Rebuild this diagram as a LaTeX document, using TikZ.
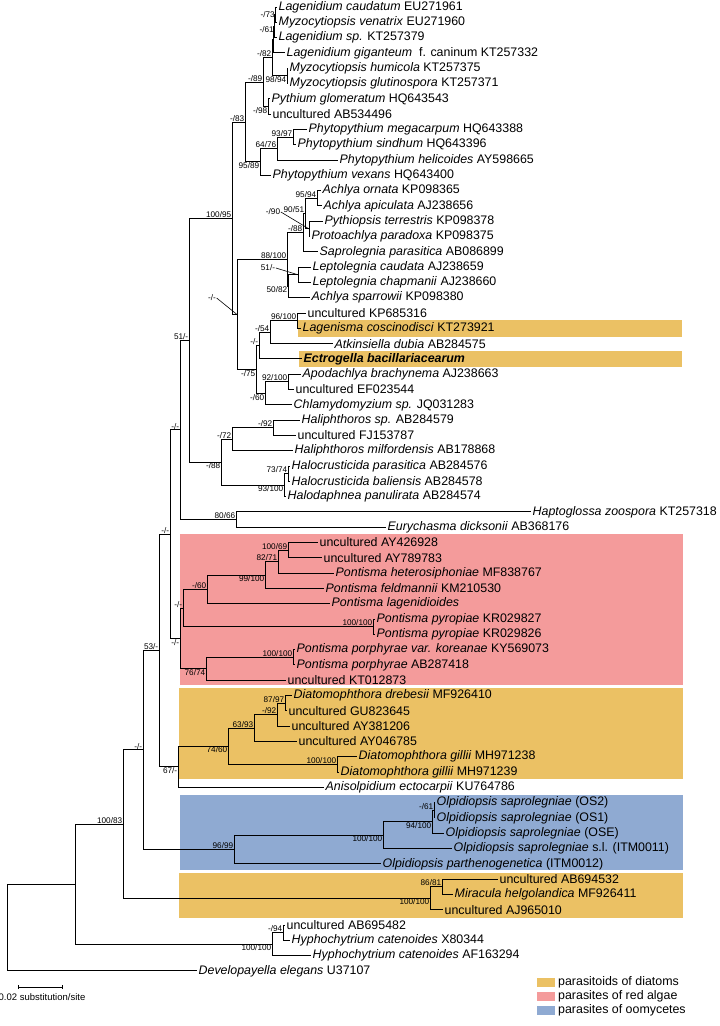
\documentclass[tikz,border=0pt]{standalone}
\usepackage{fontspec}
\setmainfont{Liberation Sans}
\usetikzlibrary{arrows.meta}
\definecolor{DiatomOrange}{RGB}{235,193,100}
\definecolor{RedAlgae}{RGB}{244,155,155}
\definecolor{OomBlue}{RGB}{143,170,210}
\tikzset{
  leaf/.style={anchor=west,inner xsep=1.5pt,inner ysep=0pt,
               font=\fontsize{12.4}{14}\selectfont},
  treeline/.style={line width=0.9pt,black},
  supp/.style={inner sep=0.6pt,font=\fontsize{8.2}{9}\selectfont},
  bsa/.style={supp,anchor=south east},
  bsb/.style={supp,anchor=north east},
  bsl/.style={supp,anchor=east},
  leadline/.style={line width=0.6pt,black},
}

\begin{document}
\begin{tikzpicture}[x=1pt,y=-1pt,
    legendtext/.style={anchor=west,inner sep=0pt,font=\fontsize{12.4}{14}\selectfont},
    swatch/.style={minimum width=18pt,minimum height=9pt,inner sep=0pt}
  ]
  \useasboundingbox (0,0) rectangle (720,1026);

  % Group shading
  \fill[DiatomOrange] (298,320) rectangle (682,336.5);
  \fill[DiatomOrange] (299,350.5) rectangle (682,367);
  \fill[RedAlgae] (180,533.5) rectangle (683,685);
  \fill[DiatomOrange] (179,688) rectangle (683,779);
  \fill[OomBlue] (180,795) rectangle (683,870);
  \fill[DiatomOrange] (179,872.5) rectangle (683,917.5);

  % Taxa
  \node[leaf] (l1) at (277,7.0) {\textit{Lagenidium caudatum} EU271961};
  \node[leaf] (l2) at (277,22.3) {\textit{Myzocytiopsis venatrix} EU271960};
  \node[leaf] (l3) at (277,37.6) {\textit{Lagenidium sp.} KT257379};
  \node[leaf] (l4) at (285,52.9) {\textit{Lagenidium giganteum}\ \ f. caninum KT257332};
  \node[leaf] (l5) at (288,68.2) {\textit{Myzocytiopsis humicola} KT257375};
  \node[leaf] (l6) at (288,83.5) {\textit{Myzocytiopsis glutinospora} KT257371};
  \node[leaf] (l7) at (270,98.8) {\textit{Pythium glomeratum} HQ643543};
  \node[leaf] (l8) at (271,114.1) {uncultured AB534496};
  \node[leaf] (l9) at (307,129.4) {\textit{Phytopythium megacarpum} HQ643388};
  \node[leaf] (l10) at (296,144.7) {\textit{Phytopythium sindhum} HQ643396};
  \node[leaf] (l11) at (338,160.0) {\textit{Phytopythium helicoides} AY598665};
  \node[leaf] (l12) at (271,175.3) {\textit{Phytopythium vexans} HQ643400};
  \node[leaf] (l13) at (321,190.6) {\textit{Achlya ornata} KP098365};
  \node[leaf] (l14) at (322,205.9) {\textit{Achlya apiculata} AJ238656};
  \node[leaf] (l15) at (323,221.2) {\textit{Pythiopsis terrestris} KP098378};
  \node[leaf] (l16) at (310,236.5) {\textit{Protoachlya paradoxa} KP098375};
  \node[leaf] (l17) at (318,251.8) {\textit{Saprolegnia parasitica} AB086899};
  \node[leaf] (l18) at (311,267.1) {\textit{Leptolegnia caudata} AJ238659};
  \node[leaf] (l19) at (311,282.4) {\textit{Leptolegnia chapmanii} AJ238660};
  \node[leaf] (l20) at (310,297.7) {\textit{Achlya sparrowii} KP098380};
  \node[leaf] (l21) at (306,313.0) {uncultured KP685316};
  \node[leaf] (l22) at (301,328.3) {\textit{Lagenisma coscinodisci} KT273921};
  \node[leaf] (l23) at (333,343.6) {\textit{Atkinsiella dubia} AB284575};
  \node[leaf] (l24) at (302,358.9) {\textbf{\textit{Ectrogella bacillariacearum}}};
  \node[leaf] (l25) at (301,374.2) {\textit{Apodachlya brachynema} AJ238663};
  \node[leaf] (l26) at (294,389.5) {uncultured EF023544};
  \node[leaf] (l27) at (292,404.8) {\textit{Chlamydomyzium sp.} JQ031283};
  \node[leaf] (l28) at (300,420.1) {\textit{Haliphthoros sp.} AB284579};
  \node[leaf] (l29) at (296,435.4) {uncultured FJ153787};
  \node[leaf] (l30) at (293,450.7) {\textit{Haliphthoros milfordensis} AB178868};
  \node[leaf] (l31) at (290,466.0) {\textit{Halocrusticida parasitica} AB284576};
  \node[leaf] (l32) at (290,481.3) {\textit{Halocrusticida baliensis} AB284578};
  \node[leaf] (l33) at (286,496.6) {\textit{Halodaphnea panulirata} AB284574};
  \node[leaf] (l34) at (531,511.9) {\textit{Haptoglossa zoospora} KT257318};
  \node[leaf] (l35) at (386,527.2) {\textit{Eurychasma dicksonii} AB368176};
  \node[leaf] (l36) at (318,542.5) {uncultured AY426928};
  \node[leaf] (l37) at (322,557.8) {uncultured AY789783};
  \node[leaf] (l38) at (334,573.1) {\textit{Pontisma heterosiphoniae} MF838767};
  \node[leaf] (l39) at (324,588.4) {\textit{Pontisma feldmannii} KM210530};
  \node[leaf] (l40) at (330,603.7) {\textit{Pontisma lagenidioides}};
  \node[leaf] (l41) at (375,619.0) {\textit{Pontisma pyropiae} KR029827};
  \node[leaf] (l42) at (375,634.3) {\textit{Pontisma pyropiae} KR029826};
  \node[leaf] (l43) at (295,649.6) {\textit{Pontisma porphyrae var. koreanae} KY569073};
  \node[leaf] (l44) at (295,664.9) {\textit{Pontisma porphyrae} AB287418};
  \node[leaf] (l45) at (286,680.2) {uncultured KT012873};
  \node[leaf] (l46) at (292,695.5) {\textit{Diatomophthora drebesii} MF926410};
  \node[leaf] (l47) at (287,710.8) {uncultured GU823645};
  \node[leaf] (l48) at (290,726.1) {uncultured AY381206};
  \node[leaf] (l49) at (297,741.4) {uncultured AY046785};
  \node[leaf] (l50) at (357,756.7) {\textit{Diatomophthora gillii} MH971238};
  \node[leaf] (l51) at (339,772.0) {\textit{Diatomophthora gillii} MH971239};
  \node[leaf] (l52) at (324,787.3) {\textit{Anisolpidium ectocarpii} KU764786};
  \node[leaf] (l53) at (435,802.6) {\textit{Olpidiopsis saprolegniae} (OS2)};
  \node[leaf] (l54) at (435,817.9) {\textit{Olpidiopsis saprolegniae} (OS1)};
  \node[leaf] (l55) at (444,833.2) {\textit{Olpidiopsis saprolegniae} (OSE)};
  \node[leaf] (l56) at (452,848.5) {\textit{Olpidiopsis saprolegniae} s.l. (ITM0011)};
  \node[leaf] (l57) at (381,863.8) {\textit{Olpidiopsis parthenogenetica} (ITM0012)};
  \node[leaf] (l58) at (498,879.1) {uncultured AB694532};
  \node[leaf] (l59) at (453,894.4) {\textit{Miracula helgolandica} MF926411};
  \node[leaf] (l60) at (443,909.7) {uncultured AJ965010};
  \node[leaf] (l61) at (285,925.0) {uncultured AB695482};
  \node[leaf] (l62) at (290,940.3) {\textit{Hyphochytrium catenoides} X80344};
  \node[leaf] (l63) at (311,955.6) {\textit{Hyphochytrium catenoides} AF163294};
  \node[leaf] (l64) at (197,970.9) {\textit{Developayella elegans} U37107};

  % Internal nodes and support values
  \coordinate (root) at (7,927.5);
  \coordinate (A) at (75,884.1);
  \coordinate (B) at (123,824.05);     \node[bsa] (sB) at (B) {100/83};
  \coordinate (n100c) at (430,898.2);  \node[bsb] (s100c) at (n100c) {100/100};
  \coordinate (n8681) at (442,886.75); \node[bsa] (s8681) at (n8681) {86/81};
  \coordinate (n100d) at (272,944.1);  \node[bsb] (s100d) at (n100d) {100/100};
  \coordinate (n94b) at (283,932.65);  \node[bsa] (s94b) at (n94b) {-/94};
  \coordinate (C) at (143,749.9);      \node[bsa] (sC) at (C) {-/-};
  \coordinate (n9699) at (234,849.45); \node[bsa] (s9699) at (n9699) {96/99};
  \coordinate (n100b) at (383,835.1);  \node[bsb] (s100b) at (n100b) {100/100};
  \coordinate (n94100) at (432,821.7); \node[bsb] (s94100) at (n94100) {94/100};
  \coordinate (n61c) at (434,810.25);  \node[bsa] (s61c) at (n61c) {-/61};
  \coordinate (D) at (159,650.4);      \node[bsa] (sD) at (D) {53/-};
  \coordinate (n67) at (178,766.75);   \node[bsb] (s67) at (n67) {67/-};
  \coordinate (n7460) at (228,746.2);  \node[bsb] (s7460) at (n7460) {74/60};
  \coordinate (nGil) at (337,764.35);  \node[bsa] (sGil) at (nGil) {100/100};
  \coordinate (n6393) at (254,728);    \node[bsa] (s6393) at (n6393) {63/93};
  \coordinate (n92c) at (277,714.6);   \node[bsa] (s92c) at (n92c) {-/92};
  \coordinate (n8797) at (285,703.15); \node[bsa] (s8797) at (n8797) {87/97};
  \coordinate (E) at (170,534.1);      \node[bsa] (sE) at (E) {-/-};
  \coordinate (nRed) at (180,638.35);  \node[bsb] (sRed) at (nRed) {-/-};
  \coordinate (n7674) at (206,668.7);  \node[bsb] (s7674) at (n7674) {76/74};
  \coordinate (nPor) at (293,657.25);  \node[bsa] (sPor) at (nPor) {100/100};
  \coordinate (nR1) at (183,608);      \node[bsa] (sR1) at (nR1) {-/-};
  \coordinate (nPyr) at (373,626.65);  \node[bsa] (sPyr) at (nPyr) {100/100};
  \coordinate (n60b) at (207,589.35);  \node[bsa] (s60b) at (n60b) {-/60};
  \coordinate (n99) at (265,575);      \node[bsb] (s99) at (n99) {99/100};
  \coordinate (n8271) at (278,561.6);  \node[bsa] (s8271) at (n8271) {82/71};
  \coordinate (n10069) at (288,550.15);\node[bsa] (s10069) at (n10069) {100/69};
  \coordinate (G) at (180,429.9);      \node[bsa] (sG) at (G) {-/-};
  \coordinate (n8066) at (236,519.55); \node[bsa] (s8066) at (n8066) {80/66};
  \coordinate (n51) at (189,340.2);    \node[bsa] (s51) at (n51) {51/-};
  \coordinate (n88b) at (221,462.2);   \node[bsb] (s88b) at (n88b) {-/88};
  \coordinate (n93100) at (284,485.1); \node[bsb] (s93100) at (n93100) {93/100};
  \coordinate (n7374) at (288,473.65); \node[bsa] (s7374) at (n7374) {73/74};
  \coordinate (n72) at (232,439.2);    \node[bsa] (s72) at (n72) {-/72};
  \coordinate (n92b) at (273,427.75);  \node[bsa] (s92b) at (n92b) {-/92};
  \coordinate (n10095) at (232,218.2); \node[bsa] (s10095) at (n10095) {100/95};
  \coordinate (nX1) at (237,314.5);    \node[supp] (sX1) at (212,298) {-/-};
  \coordinate (n75) at (256,369.4);    \node[bsb] (s75) at (n75) {-/75};
  \coordinate (n60) at (265,393.3);    \node[bsb] (s60) at (n60) {-/60};
  \coordinate (n92) at (288,381.85);   \node[bsa] (s92) at (n92) {92/100};
  \coordinate (n54b) at (259,345.5);   \node[bsa] (s54b) at (n54b) {-/-};
  \coordinate (n54) at (270,332.1);    \node[bsa] (s54) at (n54) {-/54};
  \coordinate (n96) at (297,320.65);   \node[bsa] (s96) at (n96) {96/100};
  \coordinate (n88100) at (287,259.5); \node[bsa] (s88100) at (n88100) {88/100};
  \coordinate (n5082) at (288,286.2);  \node[bsb] (s5082) at (n5082) {50/82};
  \coordinate (nL51) at (298,274.75);  \node[supp] (sL51) at (268,268) {51/-};
  \coordinate (n88) at (303,232.7);    \node[bsa] (s88) at (n88) {-/88};
  \coordinate (n9051) at (305,213.55); \node[bsa] (s9051) at (n9051) {90/51};
  \coordinate (n90) at (309,228.85);   \node[supp] (s90) at (273,212) {-/90};
  \coordinate (n9594) at (317,198.25); \node[bsa] (s9594) at (n9594) {95/94};
  \coordinate (n83) at (245,122);      \node[bsa] (s83) at (n83) {-/83};
  \coordinate (n9589) at (260,161.9);  \node[bsb] (s9589) at (n9589) {95/89};
  \coordinate (n6476) at (277,148.5);  \node[bsa] (s6476) at (n6476) {64/76};
  \coordinate (n9397) at (293,137.05); \node[bsa] (s9397) at (n9397) {93/97};
  \coordinate (n89) at (263,82.1);     \node[bsa] (s89) at (n89) {-/89};
  \coordinate (n98) at (268,106.45);   \node[bsb] (s98) at (n98) {-/98};
  \coordinate (n82) at (272,57.7);     \node[bsa] (s82) at (n82) {-/82};
  \coordinate (n9894) at (287,75.85);  \node[bsb] (s9894) at (n9894) {98/94};
  \coordinate (nA) at (273.5,39.5);
  \coordinate (n61a) at (274.5,26.1);  \node[bsb] (s61a) at (n61a) {-/61};
  \coordinate (n73) at (275.5,14.65);  \node[bsl] (s73) at (n73) {-/73};

  % Branches
  \draw[treeline] (root) |- (A) (root) |- (l64.west);
  \draw[treeline] (A) |- (B) (A) |- (n100d);
  \draw[treeline] (B) |- (C) (B) |- (n100c);
  \draw[treeline] (n100c) |- (n8681) (n100c) |- (l60.west);
  \draw[treeline] (n8681) |- (l58.west) (n8681) |- (l59.west);
  \draw[treeline] (n100d) |- (n94b) (n100d) |- (l63.west);
  \draw[treeline] (n94b) |- (l61.west) (n94b) |- (l62.west);
  \draw[treeline] (C) |- (D) (C) |- (n9699);
  \draw[treeline] (n9699) |- (n100b) (n9699) |- (l57.west);
  \draw[treeline] (n100b) |- (n94100) (n100b) |- (l56.west);
  \draw[treeline] (n94100) |- (n61c) (n94100) |- (l55.west);
  \draw[treeline] (n61c) |- (l53.west) (n61c) |- (l54.west);
  \draw[treeline] (D) |- (E) (D) |- (n67);
  \draw[treeline] (n67) |- (n7460) (n67) |- (l52.west);
  \draw[treeline] (n7460) |- (n6393) (n7460) |- (nGil);
  \draw[treeline] (nGil) |- (l50.west) (nGil) |- (l51.west);
  \draw[treeline] (n6393) |- (n92c) (n6393) |- (l49.west);
  \draw[treeline] (n92c) |- (n8797) (n92c) |- (l48.west);
  \draw[treeline] (n8797) |- (l46.west) (n8797) |- (l47.west);
  \draw[treeline] (E) |- (G) (E) |- (nRed);
  \draw[treeline] (nRed) |- (nR1) (nRed) |- (n7674);
  \draw[treeline] (n7674) |- (nPor) (n7674) |- (l45.west);
  \draw[treeline] (nPor) |- (l43.west) (nPor) |- (l44.west);
  \draw[treeline] (nR1) |- (n60b) (nR1) |- (nPyr);
  \draw[treeline] (nPyr) |- (l41.west) (nPyr) |- (l42.west);
  \draw[treeline] (n60b) |- (n99) (n60b) |- (l40.west);
  \draw[treeline] (n99) |- (n8271) (n99) |- (l39.west);
  \draw[treeline] (n8271) |- (n10069) (n8271) |- (l38.west);
  \draw[treeline] (n10069) |- (l36.west) (n10069) |- (l37.west);
  \draw[treeline] (G) |- (n51) (G) |- (n8066);
  \draw[treeline] (n8066) |- (l34.west) (n8066) |- (l35.west);
  \draw[treeline] (n51) |- (n10095) (n51) |- (n88b);
  \draw[treeline] (n88b) |- (n72) (n88b) |- (n93100);
  \draw[treeline] (n93100) |- (n7374) (n93100) |- (l33.west);
  \draw[treeline] (n7374) |- (l31.west) (n7374) |- (l32.west);
  \draw[treeline] (n72) |- (n92b) (n72) |- (l30.west);
  \draw[treeline] (n92b) |- (l28.west) (n92b) |- (l29.west);
  \draw[treeline] (n10095) |- (n83) (n10095) |- (nX1);
  \draw[treeline] (nX1) |- (n88100) (nX1) |- (n75);
  \draw[treeline] (n75) |- (n54b) (n75) |- (n60);
  \draw[treeline] (n60) |- (n92) (n60) |- (l27.west);
  \draw[treeline] (n92) |- (l25.west) (n92) |- (l26.west);
  \draw[treeline] (n54b) |- (n54) (n54b) |- (l24.west);
  \draw[treeline] (n54) |- (n96) (n54) |- (l23.west);
  \draw[treeline] (n96) |- (l21.west) (n96) |- (l22.west);
  \draw[treeline] (n88100) |- (n88) (n88100) |- (n5082);
  \draw[treeline] (n5082) |- (nL51) (n5082) |- (l20.west);
  \draw[treeline] (nL51) |- (l18.west) (nL51) |- (l19.west);
  \draw[treeline] (n88) |- (n9051) (n88) |- (l17.west);
  \draw[treeline] (n9051) |- (n9594) (n9051) |- (n90);
  \draw[treeline] (n90) |- (l15.west) (n90) |- (l16.west);
  \draw[treeline] (n9594) |- (l13.west) (n9594) |- (l14.west);
  \draw[treeline] (n83) |- (n89) (n83) |- (n9589);
  \draw[treeline] (n9589) |- (n6476) (n9589) |- (l12.west);
  \draw[treeline] (n6476) |- (n9397) (n6476) |- (l11.west);
  \draw[treeline] (n9397) |- (l9.west) (n9397) |- (l10.west);
  \draw[treeline] (n89) |- (n82) (n89) |- (n98);
  \draw[treeline] (n98) |- (l7.west) (n98) |- (l8.west);
  \draw[treeline] (n82) |- (nA) (n82) |- (n9894);
  \draw[treeline] (n9894) |- (l5.west) (n9894) |- (l6.west);
  \draw[treeline] (nA) |- (n61a) (nA) |- (l4.west);
  \draw[treeline] (n61a) |- (n73) (n61a) |- (l3.west);
  \draw[treeline] (n73) |- (l1.west) (n73) |- (l2.west);

  % Leader lines for crowded supports
  \draw[leadline] (s90.east) -- (n90);
  \draw[leadline] (sL51.east) -- (nL51);
  \draw[leadline] (sX1.east) -- (nX1);

  % Scale bar
  \coordinate (sb1) at (18,987);
  \coordinate (sb2) at (63,987);
  \draw[line width=0.9pt,{Bar[width=4pt]}-{Bar[width=4pt]}] (sb1) -- (sb2);
  \node[inner sep=0pt,font=\fontsize{9.5}{11}\selectfont] (sblabel) at (42,997.5) {0.02 substitution/site};

  % Legend
  \node[swatch,fill=DiatomOrange] (key1) at (546,982) {};
  \node[swatch,fill=RedAlgae] (key2) at (546,996) {};
  \node[swatch,fill=OomBlue] (key3) at (546,1010) {};
  \node[legendtext] (txt1) at (558,982) {parasitoids of diatoms};
  \node[legendtext] (txt2) at (558,996) {parasites of red algae};
  \node[legendtext] (txt3) at (558,1010) {parasites of oomycetes};
\end{tikzpicture}
\end{document}
